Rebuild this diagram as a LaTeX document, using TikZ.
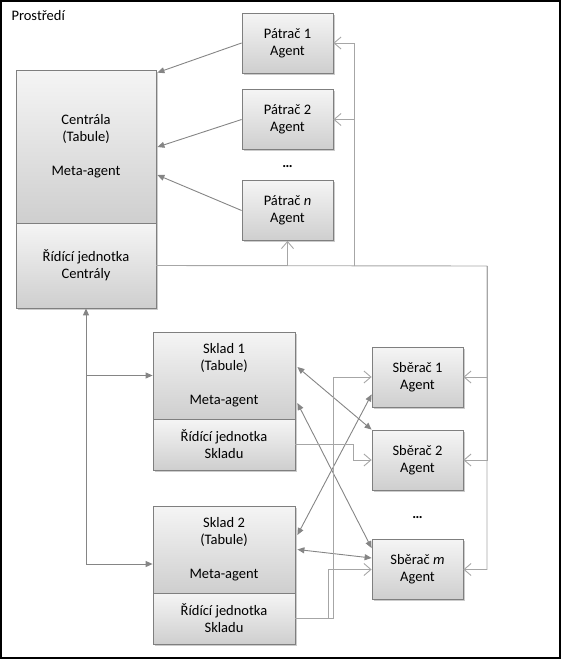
\documentclass[tikz,border=0pt]{standalone}
\usepackage{fontspec}
\setmainfont{Carlito}
\usepackage{tikz}
\usetikzlibrary{arrows.meta,calc,shadows}

\definecolor{boxline}{HTML}{7F7F7F}
\definecolor{linkgray}{HTML}{858585}
\definecolor{ctrlgray}{HTML}{A6A6A6}

\begin{document}
\begin{tikzpicture}[x=1pt,y=-1pt,
    every node/.style={font=\fontsize{14.5}{17}\selectfont},
    >={Triangle[length=7pt,width=6pt]},
    agentbox/.style={draw=boxline,line width=0.8pt,top color=black!4,bottom color=black!19,
      minimum width=91pt,minimum height=60pt,inner sep=0pt,align=center,
      drop shadow={shadow xshift=1.6pt,shadow yshift=-1.6pt,fill=black!40,opacity=.5}},
    bigbox/.style={agentbox,minimum width=#1},
    link/.style={draw=linkgray,line width=0.9pt},
    ctrl/.style={draw=ctrlgray,line width=0.9pt,-{Straight Barb[length=7pt,width=12pt]}}]
     \useasboundingbox (0,0) rectangle (561,659);
     \draw [line width=2pt] (1,1) rectangle (560,658);                  % prostredi
     \node [anchor=west] (env) at (8,16) {Prostředí};

     % centrala
     \node [bigbox=140pt,minimum height=153pt] (cenT) at (86,146.5) {Centrála\\(Tabule)\\[17pt]Meta-agent};
     \node [bigbox=140pt,minimum height=85pt] (cenB) at (86,265.5) {Řídící jednotka\\Centrály};

     % patraci
     \node [agentbox] (pat1) at (287.5,43) {Pátrač 1\\Agent};
     \node [agentbox] (pat2) at (287.5,119.5) {Pátrač 2\\Agent};
     \node (dotsP) at (287.5,167) {\textbf{…}};
     \node [agentbox] (patn) at (287.5,210.5) {Pátrač \textit{n}\\Agent};

     % sklady
     \node [bigbox=142pt,minimum height=87pt] (sk1T) at (224,375.5) {Sklad 1\\(Tabule)\\[17pt]Meta-agent};
     \node [bigbox=142pt,minimum height=51pt] (sk1B) at (224,444.5) {Řídící jednotka\\Skladu};
     \node [bigbox=142pt,minimum height=87pt] (sk2T) at (224,549.5) {Sklad 2\\(Tabule)\\[17pt]Meta-agent};
     \node [bigbox=142pt,minimum height=51pt] (sk2B) at (224,618.5) {Řídící jednotka\\Skladu};

     % sberaci
     \node [agentbox] (sb1) at (417.5,377) {Sběrač 1\\Agent};
     \node [agentbox] (sb2) at (417.5,460) {Sběrač 2\\Agent};
     \node (dotsS) at (417.5,518) {\textbf{…}};
     \node [agentbox] (sbm) at (417.5,569.5) {Sběrač \textit{m}\\Agent};

     % patraci -> centrala
     \draw [link,->] (pat1.west) -- ($(cenT.north east)+(1,3)$);
     \draw [link,->] (pat2.west) -- ($(cenT.east)+(1,0.5)$);
     \draw [link,->] (patn.west) -- ($(cenT.east)+(1,28.5)$);

     % rizeni patracu a sberacu
     \coordinate (busP) at (354,266);
     \coordinate (busS) at (487,266);
     \draw [ctrl] (cenB.east) -| (patn.south);
     \draw [ctrl] (busP) |- (pat1.east);
     \draw [ctrl] (busP) |- (pat2.east);
     \draw [ctrl] (cenB.east) -- (busS) |- (sbm.east);
     \draw [ctrl] (busS) |- (sb1.east);
     \draw [ctrl] (busS) |- (sb2.east);

     % centrala <-> sklady
     \draw [link,<->] (cenB.south) |- ($(sk2T.west)+(0,14.5)$);
     \draw [link,->] (cenB.south |- sk1T.west) -- (sk1T.west);

     % sklady <-> sberaci
     \draw [link,<->] ($(sk1T.east)+(2,-8.5)$) -- (sb2.north west);
     \draw [link,<->] ($(sk1T.east)+(2,27.5)$) -- ($(sbm.north west)+(0,9)$);
     \draw [link,<->] ($(sk2T.east)+(2,-14.5)$) -- ($(sb1.south west)+(0,-13)$);
     \draw [link,<->] ($(sk2T.east)+(2,0)$) -- ($(sbm.west)+(0,-11.5)$);

     % rizeni sberacu ze skladu
     \draw [ctrl] (sk1B.east) -- ++(58,0) |- (sb2.west);
     \draw [ctrl] (sk2B.east) -- ++(38,0) |- (sb1.west);
     \draw [ctrl] (sk2B.east) -- ++(33,0) |- (sbm.west);
\end{tikzpicture}
\end{document}
